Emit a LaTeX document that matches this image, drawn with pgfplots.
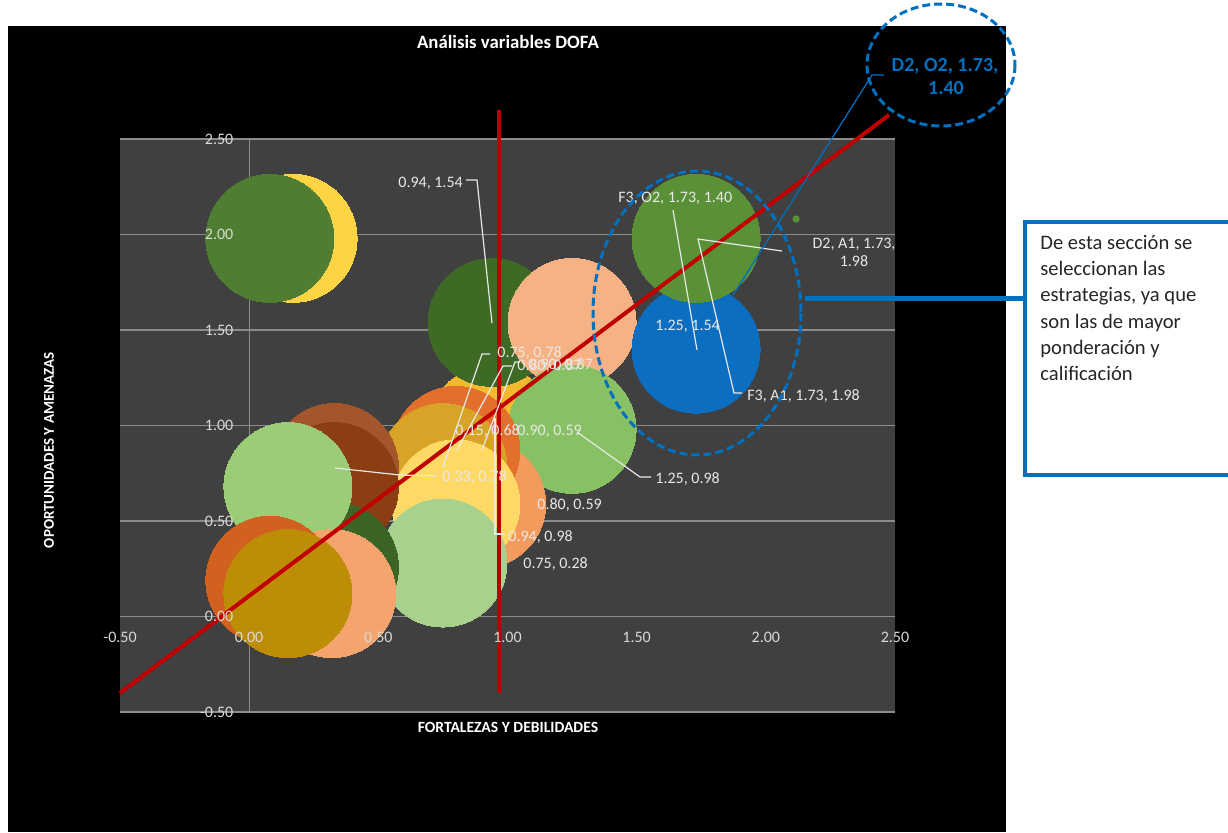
\documentclass[border=0pt]{standalone}
\usepackage{fontspec}
\setmainfont{Carlito}
\usepackage{pgfplots}
\pgfplotsset{compat=1.18}
\definecolor{plotbg}{HTML}{404040}
\definecolor{gridc}{HTML}{8C8C8C}
\definecolor{tickc}{HTML}{D9D9D9}
\definecolor{lblc}{HTML}{E8E8E8}
\definecolor{redl}{HTML}{C00000}
\definecolor{blueann}{HTML}{0070C0}
\definecolor{cYellowTL}{HTML}{FDD443}
\definecolor{cGreenTL}{HTML}{4F7E33}
\definecolor{cYellowMid}{HTML}{F2BA2C}
\definecolor{cDGreenMid}{HTML}{3E6A26}
\definecolor{cPeachLight}{HTML}{F6B285}
\definecolor{cBlue}{HTML}{0B6EC1}
\definecolor{cGreenTR}{HTML}{5A9136}
\definecolor{cLGreenMid}{HTML}{88C164}
\definecolor{cPeachOrange}{HTML}{F39B5D}
\definecolor{cOrangeRed}{HTML}{E26F2C}
\definecolor{cGold}{HTML}{D8A326}
\definecolor{cLightYellow}{HTML}{FFD966}
\definecolor{cPaleGreen}{HTML}{A9D18E}
\definecolor{cBrownL}{HTML}{A3562C}
\definecolor{cBrownD}{HTML}{8A3E12}
\definecolor{cDGreenLow}{HTML}{3C6424}
\definecolor{cLGreenL}{HTML}{9BCC76}
\definecolor{cPeach}{HTML}{F4A46C}
\definecolor{cOrangeLow}{HTML}{D2611F}
\definecolor{cDarkGold}{HTML}{BE8D06}
\newcommand{\bub}[3]{\addplot[color=#1, only marks, mark=*, mark size=32pt, mark options={fill=#1, draw=#1, line width=0pt}] coordinates {(#2,#3)};}
\newcommand{\lbl}{\fontsize{8}{9.6}\selectfont}
\begin{document}
\begin{tikzpicture}
\useasboundingbox (0,0) rectangle (614pt,-416pt);
\fill[white] (0,0) rectangle (614pt,-416pt);
\fill[black] (4pt,-13pt) rectangle (503pt,-416pt);
\begin{axis}[
  at={(60pt,-356pt)}, anchor=south west, scale only axis,
  width=387.5pt, height=286.5pt,
  xmin=-0.5, xmax=2.5, ymin=-0.5, ymax=2.5,
  clip=false, clip marker paths=true, axis on top,
  xtick={-0.5,0,0.5,1,1.5,2,2.5},
  ytick={-0.5,0,0.5,1,1.5,2,2.5},
  axis line style={draw=none}, major tick length=0pt,
  axis background/.style={fill=plotbg},
  /pgf/number format/.cd, fixed, fixed zerofill, precision=2, assume math mode=true,
  /pgfplots/.cd,
  tick label style={font=\lbl, text=tickc},
  xticklabel style={anchor=center, yshift=37.5pt},
  yticklabel style={anchor=east, xshift=60.2pt},
  title={Análisis variables DOFA},
  title style={at={(axis description cs:0.5006,1.148)}, anchor=center, font=\fontsize{9.4}{11}\selectfont\bfseries, text=white},
  xlabel={FORTALEZAS Y DEBILIDADES},
  xlabel style={at={(axis description cs:0.5006,-0.0262)}, anchor=center, font=\fontsize{7.8}{9}\selectfont\bfseries, text=white},
  ylabel={OPORTUNIDADES Y AMENAZAS},
  ylabel style={at={(axis description cs:-0.0916,0.457)}, anchor=center, font=\fontsize{7.5}{9}\selectfont\bfseries, text=white},
]
\pgfplotsinvokeforeach{-0.5,0,0.5,1,1.5,2,2.5}{\draw[gridc, line width=0.6pt] (axis cs:-0.5,#1) -- (axis cs:2.5,#1);}
\draw[gridc, line width=0.6pt] (axis cs:0,-0.5) -- (axis cs:0,2.5);
\bub{cYellowTL}{0.17}{1.98}
\bub{cGreenTL}{0.08}{1.98}
\bub{cYellowMid}{0.94}{0.98}
\bub{cDGreenMid}{0.94}{1.54}
\bub{cPeachLight}{1.25}{1.54}
\bub{cBlue}{1.73}{1.40}
\bub{cGreenTR}{1.73}{1.98}
\bub{cLGreenMid}{1.25}{0.98}
\bub{cPeachOrange}{0.90}{0.59}
\bub{cOrangeRed}{0.80}{0.87}
\bub{cGold}{0.75}{0.78}
\bub{cLightYellow}{0.80}{0.59}
\bub{cPaleGreen}{0.75}{0.28}
\bub{cBrownL}{0.33}{0.78}
\bub{cBrownD}{0.33}{0.68}
\bub{cDGreenLow}{0.33}{0.26}
\bub{cLGreenL}{0.15}{0.68}
\bub{cPeach}{0.32}{0.12}
\bub{cOrangeLow}{0.08}{0.19}
\bub{cDarkGold}{0.15}{0.12}
\addplot[color=cGreenTR, only marks, mark=*, mark size=1.6pt, mark options={fill=cGreenTR, draw=cGreenTR}] coordinates {(2.117,2.081)};
\addplot[redl, line width=2pt, no marks] coordinates {(0.968,-0.40) (0.968,2.652)};
\addplot[redl, line width=2pt, no marks] coordinates {(-0.5,-0.40) (2.477,2.626)};
\end{axis}
\begin{scope}[x=0.5pt,y=-0.5pt]
% data labels and leaders
\begin{scope}[lblc, line width=0.6pt]
\draw (466,180) -- (477,180) -- (492,323);
\draw (673,210) -- (697,350);
\draw (782,251) -- (698,239) -- (734,393) -- (742,393);
\draw (651,477) -- (640,477) -- (577,432);
\draw (504,534) -- (495,534) -- (495,418);
\draw (437,476) -- (400,475) -- (335,468);
\draw (490,354) -- (482,354) -- (443,467);
\draw (512,366) -- (503,366) -- (457,450);
\draw (520,362) -- (515,362) -- (482,450);
\end{scope}
\begin{scope}[every node/.style={anchor=west, inner sep=0pt, font=\lbl, text=lblc}]
\node at (398,183) {0.94, 1.54};
\node at (618,198) {F3, O2, 1.73, 1.40};
\node[anchor=center] at (854,244) {D2, A1, 1.73,};
\node[anchor=center] at (854,261) {1.98};
\node at (655,326) {1.25, 1.54};
\node at (747,396) {F3, A1, 1.73, 1.98};
\node at (655,479) {1.25, 0.98};
\node at (455,431) {0.15, 0.68};
\node at (517,431) {0.90, 0.59};
\node at (537,505) {0.80, 0.59};
\node at (508,537) {0.94, 0.98};
\node at (523,564) {0.75, 0.28};
\node at (442,477) {0.33, 0.78};
\node at (497,353) {0.75, 0.78};
\node at (517,366) {0.80, 0.87};
\node at (528,365) {0.90, 0.87};
\end{scope}
% blue annotations
\draw[blueann, line width=1.5pt, dash pattern=on 4pt off 2pt] (697,313) ellipse [x radius=104, y radius=142];
\draw[blueann, line width=1.5pt, dash pattern=on 4pt off 2pt] (941,65) ellipse [x radius=74, y radius=61];
\draw[blueann, line width=0.6pt] (884,75) -- (872,75) -- (733,295);
\draw[blueann, line width=2.5pt] (805,298) -- (1025,298);
\draw[blueann, line width=2pt, fill=white] (1025,222) rectangle (1260,475);
\node[anchor=center, inner sep=0pt, text=blueann, font=\fontsize{10}{12}\selectfont\bfseries] at (945,66) {D2, O2, 1.73,};
\node[anchor=center, inner sep=0pt, text=blueann, font=\fontsize{10}{12}\selectfont\bfseries] at (946,88) {1.40};
\begin{scope}[every node/.style={anchor=base west, inner sep=0pt, font=\fontsize{10.3}{12.4}\selectfont, text={black!85}}]
\node at (1040,249.5) {De esta sección se};
\node at (1040,275.7) {seleccionan las};
\node at (1040,301.9) {estrategias, ya que};
\node at (1040,328.1) {son las de mayor};
\node at (1040,354.3) {ponderación y};
\node at (1040,380.5) {calificación};
\end{scope}
\end{scope}
\end{tikzpicture}
\end{document}
